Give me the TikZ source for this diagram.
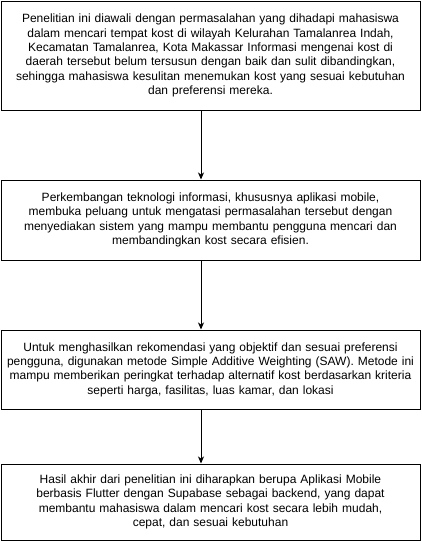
\documentclass[tikz,border=0pt]{standalone}
\usepackage{fontspec}
\setmainfont{Liberation Sans}
\usetikzlibrary{arrows.meta}

\begin{document}
\begin{tikzpicture}[x=1pt,y=-1pt,
  font=\fontsize{12}{14.4}\selectfont,
  box/.style={draw,line width=1pt,minimum width=419pt,text width=417pt,align=center,inner sep=0pt},
  flow/.style={line width=1pt,-{Stealth[length=7pt,width=6pt,inset=2pt]}}]
\useasboundingbox (0,0) rectangle (422,542);
\node[box,minimum height=109pt] (latar) at (210.5,55.5) {Penelitian ini diawali dengan permasalahan yang dihadapi mahasiswa\\
dalam mencari tempat kost di wilayah Kelurahan Tamalanrea Indah,\\
Kecamatan Tamalanrea, Kota Makassar Informasi mengenai kost di\\
daerah tersebut belum tersusun dengan baik dan sulit dibandingkan,\\
sehingga mahasiswa kesulitan menemukan kost yang sesuai kebutuhan\\
dan preferensi mereka.};
\node[box,minimum height=80pt] (peluang) at (210.5,220) {Perkembangan teknologi informasi, khususnya aplikasi mobile,\\
membuka peluang untuk mengatasi permasalahan tersebut dengan\\
menyediakan sistem yang mampu membantu pengguna mencari dan\\
membandingkan kost secara efisien.};
\node[box,minimum height=79pt] (metode) at (210.5,369.5) {Untuk menghasilkan rekomendasi yang objektif dan sesuai preferensi\\
pengguna, digunakan metode Simple Additive Weighting (SAW). Metode ini\\
mampu memberikan peringkat terhadap alternatif kost berdasarkan kriteria\\
seperti harga, fasilitas, luas kamar, dan lokasi};
\node[box,minimum height=76pt] (hasil) at (210.5,502) {Hasil akhir dari penelitian ini diharapkan berupa Aplikasi Mobile\\
berbasis Flutter dengan Supabase sebagai backend, yang dapat\\
membantu mahasiswa dalam mencari kost secara lebih mudah,\\
cepat, dan sesuai kebutuhan};
% connectors, a bit left of centre
\coordinate (ax) at (201,0);
\draw[flow] (latar.south -| ax) -- (peluang.north -| ax);
\draw[flow] (peluang.south -| ax) -- (metode.north -| ax);
\draw[flow] (metode.south -| ax) -- (hasil.north -| ax);
\end{tikzpicture}
\end{document}
